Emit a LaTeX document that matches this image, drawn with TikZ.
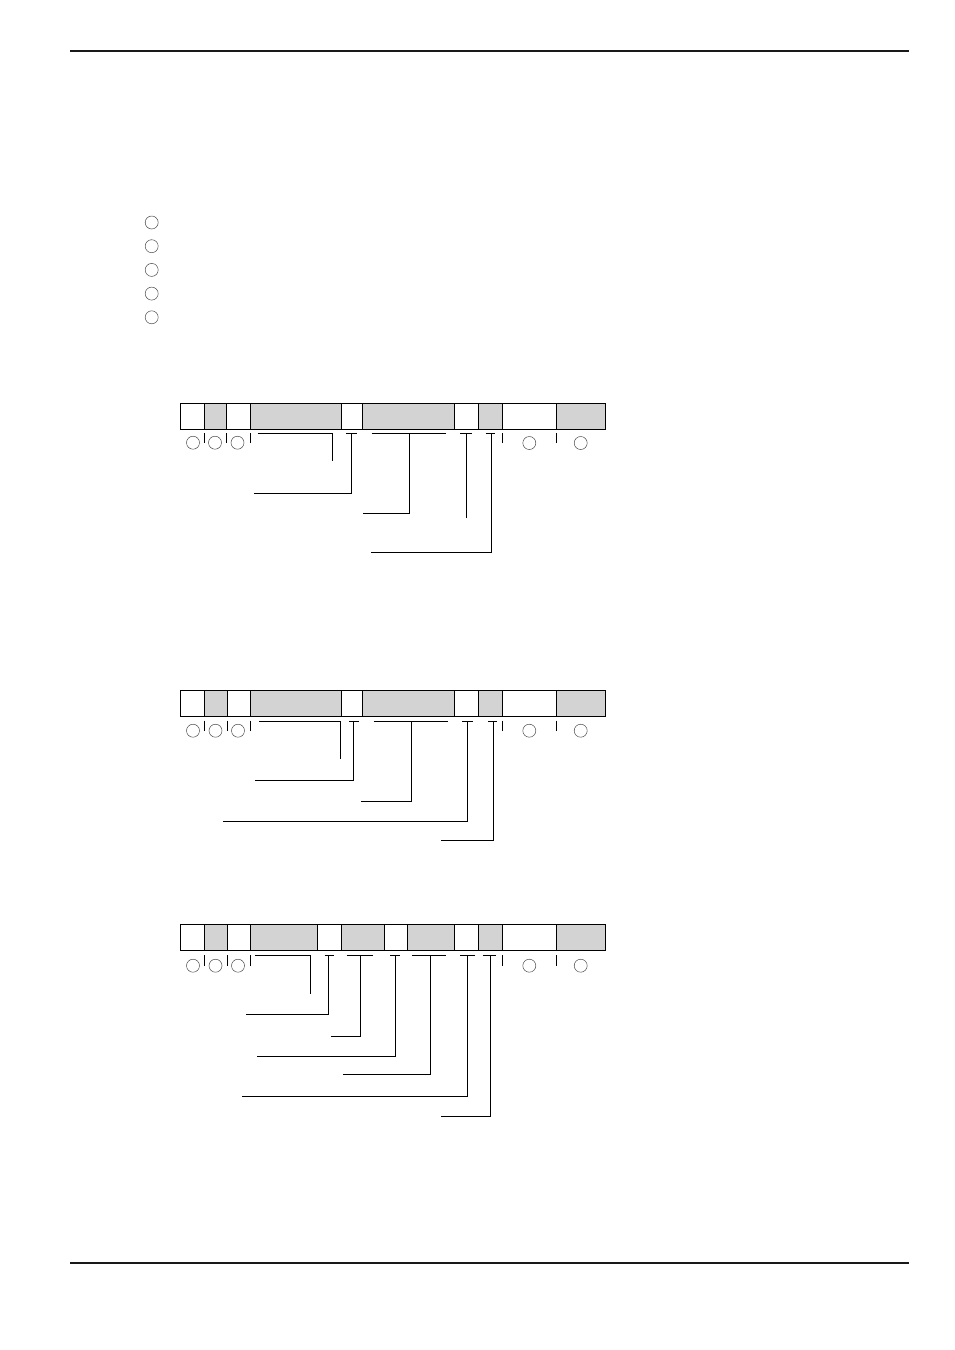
\documentclass[tikz,border=0pt]{standalone}
\usetikzlibrary{positioning}
\definecolor{fieldgray}{RGB}{211,211,211}
\tikzset{
	cellw/.style={rectangle, draw=black, fill=white, line width=1pt, minimum height=26, inner sep=0pt, outer sep=0pt},
	cellg/.style={cellw, fill=fieldgray},
	ring/.style={circle, draw=black!70, line width=0.5pt, minimum size=13, inner sep=0pt},
	lead/.style={draw=black, line width=1pt},
	rule/.style={draw=black!90, line width=2pt}
}
\begin{document}
\begin{tikzpicture}[x=1pt,y=-1pt]
	\useasboundingbox (0,0) rectangle (954,1350);
	% page rules
	\draw[rule] (70,50.7) -- (908.7,50.7);
	\draw[rule] (70,1262.5) -- (908.7,1262.5);
	% list marks
	\foreach \k in {0,...,4}
		\node (m\k) at (151.7,222.5+23.7*\k) [ring] {};

	% first frame
	\node (a1) at (180,416.2) [cellw, anchor=west, minimum width=24] {};
	\node (a2) [cellg, right=0pt of a1, minimum width=22.3] {};
	\node (a3) [cellw, right=0pt of a2, minimum width=24] {};
	\node (a4) [cellg, right=0pt of a3, minimum width=91] {};
	\node (a5) [cellw, right=0pt of a4, minimum width=21] {};
	\node (a6) [cellg, right=0pt of a5, minimum width=92] {};
	\node (a7) [cellw, right=0pt of a6, minimum width=24.4] {};
	\node (a8) [cellg, right=0pt of a7, minimum width=23.6] {};
	\node (a9) [cellw, right=0pt of a8, minimum width=54.4] {};
	\node (a10) [cellg, right=0pt of a9, minimum width=48.6] {};
	\node (ar1) at (193,442.7) [ring] {};
	\node (ar2) at (215,442.7) [ring] {};
	\node (ar3) at (237.5,442.7) [ring] {};
	\node (ar4) at (529.3,443) [ring] {};
	\node (ar5) at (580.7,443) [ring] {};
	\foreach \x in {204,226.3,250.3,502.3,556.7}
		\draw[lead] (\x,433.3) -- (\x,443);
	\coordinate (a11) at (257.7,433.3); \coordinate (a12) at (332.3,461);
	\coordinate (a21) at (346,433.3); \coordinate (a22) at (356.7,433.3);
	\coordinate (a23) at (351.3,433.3); \coordinate (a24) at (254,493.3);
	\coordinate (a31) at (371.7,433.3); \coordinate (a32) at (445.7,433.3);
	\coordinate (a33) at (409.3,433.3); \coordinate (a34) at (362.7,513.3);
	\coordinate (a41) at (460,433.3); \coordinate (a42) at (472.3,433.3);
	\coordinate (a43) at (466.3,433.3); \coordinate (a44) at (466.3,518.3);
	\coordinate (a51) at (485.7,433.3); \coordinate (a52) at (494.7,433.3);
	\coordinate (a53) at (491,433.3); \coordinate (a54) at (370.7,552.3);
	\draw[lead] (a11) -| (a12);
	\draw[lead] (a21) -- (a22); \draw[lead] (a23) |- (a24);
	\draw[lead] (a31) -- (a32); \draw[lead] (a33) |- (a34);
	\draw[lead] (a41) -- (a42); \draw[lead] (a43) -- (a44);
	\draw[lead] (a51) -- (a52); \draw[lead] (a53) |- (a54);

	% second frame
	\node (b1) at (180,703.3) [cellw, anchor=west, minimum width=24] {};
	\node (b2) [cellg, right=0pt of b1, minimum width=23.3] {};
	\node (b3) [cellw, right=0pt of b2, minimum width=23] {};
	\node (b4) [cellg, right=0pt of b3, minimum width=91] {};
	\node (b5) [cellw, right=0pt of b4, minimum width=21] {};
	\node (b6) [cellg, right=0pt of b5, minimum width=92] {};
	\node (b7) [cellw, right=0pt of b6, minimum width=24.4] {};
	\node (b8) [cellg, right=0pt of b7, minimum width=23.6] {};
	\node (b9) [cellw, right=0pt of b8, minimum width=54.4] {};
	\node (b10) [cellg, right=0pt of b9, minimum width=48.6] {};
	\node (br1) at (193,730.7) [ring] {};
	\node (br2) at (215.5,730.7) [ring] {};
	\node (br3) at (238,730.7) [ring] {};
	\node (br4) at (529.3,730.7) [ring] {};
	\node (br5) at (580.7,730.7) [ring] {};
	\foreach \x in {204,227.3,250.3,502.3,556.7}
		\draw[lead] (\x,720.7) -- (\x,730.7);
	\coordinate (b11) at (259,721.3); \coordinate (b12) at (340,759.3);
	\coordinate (b21) at (349,721.3); \coordinate (b22) at (359.3,721.3);
	\coordinate (b23) at (353,721.3); \coordinate (b24) at (255,780.7);
	\coordinate (b31) at (373.7,721.3); \coordinate (b32) at (447.7,721.3);
	\coordinate (b33) at (411.7,721.3); \coordinate (b34) at (361,801);
	\coordinate (b41) at (462.3,721.3); \coordinate (b42) at (472.7,721.3);
	\coordinate (b43) at (467.7,721.3); \coordinate (b44) at (223,821);
	\coordinate (b51) at (488.3,721.3); \coordinate (b52) at (496.7,721.3);
	\coordinate (b53) at (493.3,721.3); \coordinate (b54) at (441.3,840);
	\draw[lead] (b11) -| (b12);
	\draw[lead] (b21) -- (b22); \draw[lead] (b23) |- (b24);
	\draw[lead] (b31) -- (b32); \draw[lead] (b33) |- (b34);
	\draw[lead] (b41) -- (b42); \draw[lead] (b43) |- (b44);
	\draw[lead] (b51) -- (b52); \draw[lead] (b53) |- (b54);

	% third frame
	\node (c1) at (180,937.7) [cellw, anchor=west, minimum width=24] {};
	\node (c2) [cellg, right=0pt of c1, minimum width=23.3] {};
	\node (c3) [cellw, right=0pt of c2, minimum width=23] {};
	\node (c4) [cellg, right=0pt of c3, minimum width=67] {};
	\node (c5) [cellw, right=0pt of c4, minimum width=24] {};
	\node (c6) [cellg, right=0pt of c5, minimum width=42.7] {};
	\node (c7) [cellw, right=0pt of c6, minimum width=23.3] {};
	\node (c8) [cellg, right=0pt of c7, minimum width=47] {};
	\node (c9) [cellw, right=0pt of c8, minimum width=24.4] {};
	\node (c10) [cellg, right=0pt of c9, minimum width=23.6] {};
	\node (c11) [cellw, right=0pt of c10, minimum width=54.4] {};
	\node (c12) [cellg, right=0pt of c11, minimum width=48.6] {};
	\node (cr1) at (193,965.7) [ring] {};
	\node (cr2) at (215.5,965.7) [ring] {};
	\node (cr3) at (238,965.7) [ring] {};
	\node (cr4) at (529.3,965.7) [ring] {};
	\node (cr5) at (580.7,965.7) [ring] {};
	\foreach \x in {204,227.3,250.3,502.3,556.7}
		\draw[lead] (\x,955) -- (\x,965.7);
	\coordinate (c1a) at (255,955); \coordinate (c1b) at (310.3,994.3);
	\coordinate (c2a) at (324.7,955); \coordinate (c2b) at (333.7,955);
	\coordinate (c2c) at (328.7,955); \coordinate (c2d) at (246,1014.3);
	\coordinate (c3a) at (346.7,955); \coordinate (c3b) at (372.7,955);
	\coordinate (c3c) at (360,955); \coordinate (c3d) at (331,1036.3);
	\coordinate (c4a) at (390.3,955); \coordinate (c4b) at (400.3,955);
	\coordinate (c4c) at (395.3,955); \coordinate (c4d) at (256.7,1056);
	\coordinate (c5a) at (412.3,955); \coordinate (c5b) at (445.7,955);
	\coordinate (c5c) at (430.7,955); \coordinate (c5d) at (342.7,1074.3);
	\coordinate (c6a) at (460,955); \coordinate (c6b) at (475,955);
	\coordinate (c6c) at (467.7,955); \coordinate (c6d) at (242,1096.3);
	\coordinate (c7a) at (483.3,955); \coordinate (c7b) at (496,955);
	\coordinate (c7c) at (490.3,955); \coordinate (c7d) at (441,1116.3);
	\draw[lead] (c1a) -| (c1b);
	\draw[lead] (c2a) -- (c2b); \draw[lead] (c2c) |- (c2d);
	\draw[lead] (c3a) -- (c3b); \draw[lead] (c3c) |- (c3d);
	\draw[lead] (c4a) -- (c4b); \draw[lead] (c4c) |- (c4d);
	\draw[lead] (c5a) -- (c5b); \draw[lead] (c5c) |- (c5d);
	\draw[lead] (c6a) -- (c6b); \draw[lead] (c6c) |- (c6d);
	\draw[lead] (c7a) -- (c7b); \draw[lead] (c7c) |- (c7d);
\end{tikzpicture}
\end{document}
